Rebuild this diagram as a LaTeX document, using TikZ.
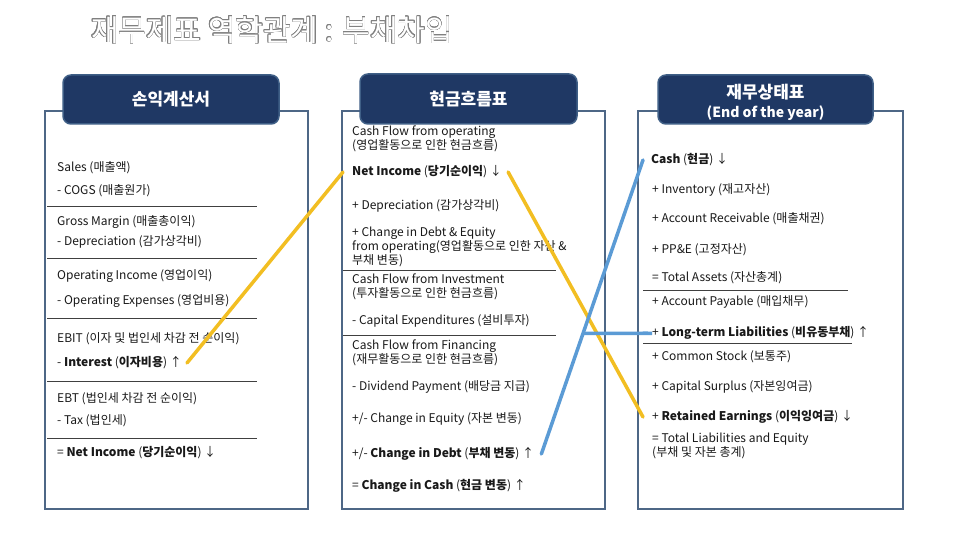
\documentclass[tikz,border=0pt]{standalone}
\usepackage{fontspec}
\setmainfont{Noto Sans CJK KR}
\usepackage{contour}
\contourlength{0.35pt}
\usetikzlibrary{calc}
\definecolor{hdr}{HTML}{1F3864}
\definecolor{hdrb}{HTML}{3F5F86}
\definecolor{pnl}{HTML}{4E6786}
\definecolor{ylw}{HTML}{F2BE22}
\definecolor{blu}{HTML}{5B9BD5}
\tikzset{
  panel/.style={draw=pnl, line width=2pt, inner sep=0},
  header/.style={fill=hdr, draw=hdrb, line width=1.5pt, rounded corners=8pt, text=white, font=\fontsize{17}{20}\selectfont\bfseries, align=center, inner sep=0},
  hdrtext/.style={text=white, font=\fontsize{17}{20}\selectfont\bfseries, align=center, inner sep=0},
  txt/.style={anchor=west, inner sep=0, font=\fontsize{12}{14}\selectfont, align=left, text=black!90},
  sep/.style={draw=black!75, line width=0.8pt},
  yl/.style={draw=ylw, line width=3.5pt, line cap=round},
  bl/.style={draw=blu, line width=3.5pt, line cap=round}
}
\begin{document}
\begin{tikzpicture}[x=1pt,y=-1pt]
\useasboundingbox (0,0) rectangle (960,540);
\fill[white] (0,0) rectangle (960,540);
% title
\node[inner sep=0, text=white] (title) at (272,30) {\fontsize{30}{34}\selectfont\contour{black!50}{재무제표 역학관계 : 부채차입}};
% panels
\node[panel, minimum width=263pt, minimum height=398pt] (p1) at (176.5,310) {};
\node[panel, minimum width=263pt, minimum height=398pt] (p2) at (473.5,310) {};
\node[panel, minimum width=265pt, minimum height=398pt] (p3) at (770.5,310) {};
% headers
\node[header, minimum width=216pt, minimum height=49pt] (h1) at (171,99.5) {손익계산서};
\node[header, minimum width=217pt, minimum height=50pt] (h2) at (468.5,99) {현금흐름표};
\node[header, minimum width=215pt, minimum height=49pt] (h3) at (765.5,99.5) {};
\node[hdrtext] (h3t) at (765.5,102.5) {재무상태표\\[-1pt]{\fontsize{14}{17}\selectfont (End of the year)}};
% left panel
\node[txt] (sales) at (57,168) {Sales (매출액)};
\node[txt] (cogs) at (57,191) {- COGS (매출원가)};
\node[txt] (gm) at (57,222) {Gross Margin (매출총이익)};
\node[txt] (dep) at (57,242) {- Depreciation (감가상각비)};
\node[txt] (oi) at (57,276) {Operating Income (영업이익)};
\node[txt] (opex) at (57,301) {- Operating Expenses (영업비용)};
\node[txt] (ebit) at (57,339) {EBIT (이자 및 법인세 차감 전 순이익)};
\node[txt] (int) at (57,363) {- \textbf{Interest} (\textbf{이자비용}) ↑};
\node[txt] (ebt) at (57,399) {EBT (법인세 차감 전 순이익)};
\node[txt] (tax) at (57,421) {- Tax (법인세)};
\node[txt] (ni) at (57,453) {= \textbf{Net Income} (\textbf{당기순이익}) ↓};
\foreach \yy in {206,258,318,381,438} \draw[sep] (47,\yy) -- (257,\yy);
% middle panel
\node[txt] (cfo) at (352,139) {Cash Flow from operating\\(영업활동으로 인한 현금흐름)};
\node[txt] (cfnet) at (352,172) {\textbf{Net Income} (\textbf{당기순이익}) ↓};
\node[txt] (cfdep) at (352,206) {+ Depreciation (감가상각비)};
\node[txt] (cfchg) at (352,247) {+ Change in Debt \& Equity\\from operating(영업활동으로 인한 자산 \&\\부채 변동)};
\node[txt] (cfi) at (352,287) {Cash Flow from Investment\\(투자활동으로 인한 현금흐름)};
\node[txt] (capex) at (352,321) {- Capital Expenditures (설비투자)};
\node[txt] (cff) at (352,352.5) {Cash Flow from Financing\\(재무활동으로 인한 현금흐름)};
\node[txt] (div) at (352,387) {- Dividend Payment (배당금 지급)};
\node[txt] (cheq) at (352,419) {+/- Change in Equity (자본 변동)};
\node[txt] (chdebt) at (352,454) {+/- \textbf{Change in Debt} (\textbf{부채 변동}) ↑};
\node[txt] (chcash) at (352,486) {= \textbf{Change in Cash} (\textbf{현금 변동}) ↑};
\foreach \yy in {270,335} \draw[sep] (343,\yy) -- (556,\yy);
% right panel
\node[txt] (cash) at (651,160) {\textbf{Cash} (\textbf{현금}) ↓};
\node[txt] (inv) at (652,190) {+ Inventory (재고자산)};
\node[txt] (ar) at (652,219) {+ Account Receivable (매출채권)};
\node[txt] (ppe) at (652,250) {+ PP\&E (고정자산)};
\node[txt] (ta) at (652,278) {= Total Assets (자산총계)};
\node[txt] (ap) at (652,302) {+ Account Payable (매입채무)};
\node[txt] (ltl) at (652,333) {+ \textbf{Long-term Liabilities} (\textbf{비유동부채}) ↑};
\node[txt] (cs) at (652,357) {+ Common Stock (보통주)};
\node[txt] (csur) at (652,387) {+ Capital Surplus (자본잉여금)};
\node[txt] (re) at (652,417) {+ \textbf{Retained Earnings} (\textbf{이익잉여금}) ↓};
\node[txt] (tle) at (652,445.5) {= Total Liabilities and Equity\\(부채 및 자본 총계)};
\draw[sep] (643,290) -- (848,290);
\draw[sep] (643,343) -- (852,343);
% connectors
\draw[yl] ([xshift=5pt]int.east) -- ([xshift=-9pt]cfnet.west);
\draw[yl] ([xshift=6pt]cfnet.east) -- ([xshift=-9pt]re.west);
\coordinate (bs) at ([xshift=7pt]chdebt.east);
\coordinate (be) at ([xshift=-8pt]cash.west);
\coordinate (bj) at ($(bs)!0.41!(be)$);
\draw[bl] (bs) -- (be);
\draw[bl] (bj) -- (bj -| ltl.west) -- ([xshift=-9pt]ltl.west);
\end{tikzpicture}
\end{document}
